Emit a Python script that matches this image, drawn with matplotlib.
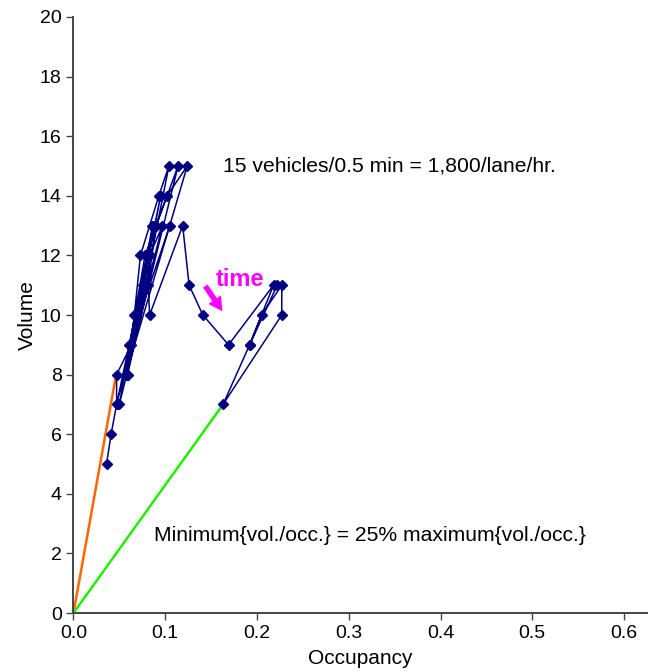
import matplotlib
matplotlib.use("Agg")
import matplotlib.pyplot as plt

plt.rcParams['font.family'] = ['Liberation Sans', 'DejaVu Sans']

# Observed (occupancy, volume) pairs, in time order
occupancy = [0.036, 0.041, 0.047, 0.047, 0.063, 0.073, 0.093, 0.104,
             0.059, 0.081, 0.090, 0.114, 0.050, 0.078, 0.102, 0.124,
             0.057, 0.086, 0.105, 0.061, 0.076, 0.066, 0.083, 0.097,
             0.047, 0.088, 0.058, 0.095, 0.062, 0.080,
             0.083, 0.119, 0.126, 0.141, 0.169, 0.218, 0.192, 0.205,
             0.227, 0.227, 0.163, 0.192, 0.222]
volume = [5, 6, 7, 8, 9, 12, 14, 15,
          8, 11, 13, 15, 7, 12, 14, 15,
          8, 13, 13, 9, 11, 10, 12, 13,
          7, 13, 8, 14, 9, 12,
          10, 13, 11, 10, 9, 11, 9, 10,
          11, 10, 7, 9, 11]

# Reference lines: maximum and minimum vol./occ. ratio
max_line_occ = [0.0, 0.0465]
max_line_vol = [0.0, 8.0]
min_line_occ = [0.0, 0.163]
min_line_vol = [0.0, 7.0]

fig = plt.figure(figsize=(6.48, 6.71), dpi=100)
ax = fig.add_axes([0.1134, 0.0864, 0.885, 0.8883])

ax.plot(max_line_occ, max_line_vol, color="#ff6600", lw=1.8, zorder=2)
ax.plot(min_line_occ, min_line_vol, color="#22ee00", lw=1.8, zorder=2)
ax.plot(occupancy, volume, color="#000080", lw=1.1, marker="D",
        markersize=5.5, zorder=3)

ax.text(0.163, 15, "15 vehicles/0.5 min = 1,800/lane/hr.", fontsize=15.2,
        va="center", ha="left")
ax.text(0.088, 2.6, "Minimum{vol./occ.} = 25% maximum{vol./occ.}",
        fontsize=15.2, va="center", ha="left")
ax.text(0.155, 11.2, "time", fontsize=17, fontweight="bold",
        color="#ff00ff", va="center", ha="left")
ax.annotate("", xy=(0.164, 10.05), xytext=(0.142, 11.05),
            arrowprops=dict(arrowstyle="simple,head_width=1.1,head_length=1.0,tail_width=0.4",
                            color="#ff00ff", lw=0))

ax.set_xlim(0, 0.625)
ax.set_ylim(0, 20)
ax.set_xticks([0.0, 0.1, 0.2, 0.3, 0.4, 0.5, 0.6])
ax.set_xticklabels(["0.0", "0.1", "0.2", "0.3", "0.4", "0.5", "0.6"])
ax.set_yticks(range(0, 21, 2))
ax.set_xlabel("Occupancy", fontsize=15, labelpad=5)
ax.set_ylabel("Volume", fontsize=15, labelpad=2)

for side in ["top", "right"]:
    ax.spines[side].set_visible(False)
for side in ["left", "bottom"]:
    ax.spines[side].set_color("#444444")
    ax.spines[side].set_linewidth(1.4)
ax.tick_params(direction="out", length=5, width=1, color="#444444",
               labelsize=14)

fig.savefig("out.png", dpi=100)
